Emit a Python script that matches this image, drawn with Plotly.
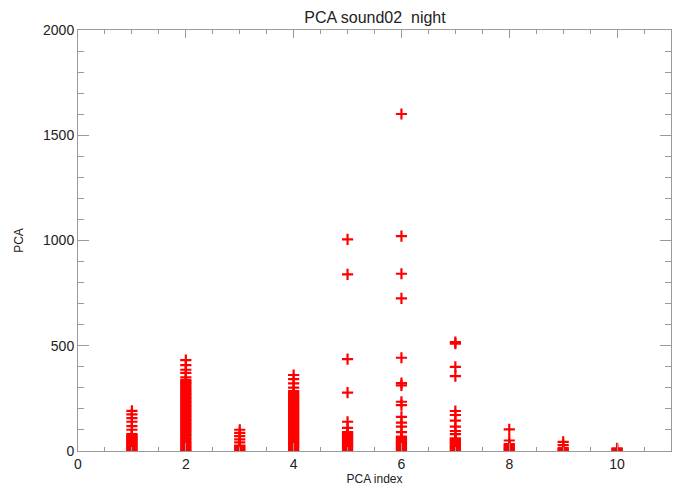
import plotly.graph_objects as go

# PCA values, one list per PCA index
pca1 = [0, 4, 9, 13, 18, 22, 27, 31, 36, 40, 45, 49, 54, 58, 63, 67, 72, 76, 80,
        101, 118, 139, 156, 174, 191]
pca2 = [0, 5, 11, 18, 24, 31, 37, 44, 50, 57, 63, 70, 76, 83, 89, 96, 102, 109, 115,
        122, 128, 135, 141, 148, 154, 161, 167, 174, 180, 187, 193, 200, 206, 213,
        219, 226, 232, 239, 245, 252, 258, 265, 271, 278, 284, 291, 297, 304, 310,
        317, 323, 330, 337, 350, 371, 386, 408, 432]
pca3 = [0, 5, 10, 16, 21, 26, 41, 55, 71, 86, 101]
pca4 = [0, 6, 13, 19, 26, 32, 39, 45, 52, 58, 65, 71, 78, 84, 91, 97, 104, 110, 117,
        123, 130, 136, 143, 149, 156, 162, 169, 175, 182, 188, 195, 201, 208, 214,
        221, 227, 234, 240, 247, 253, 260, 266, 273, 279, 285, 301, 321, 341, 361]
pca5 = [0, 6, 13, 19, 26, 32, 39, 45, 52, 58, 65, 71, 78, 84, 90,
        110, 139, 277, 436, 839, 1005]
pca6 = [0, 6, 12, 18, 24, 30, 37, 43, 49, 55, 62, 68,
        90, 116, 135, 162, 218, 234, 312, 322, 443, 725, 842, 1021, 1601]
pca7 = [0, 6, 12, 18, 25, 31, 37, 43, 49, 55, 60,
        80, 95, 116, 144, 171, 190, 356, 400, 510, 517]
pca8 = [0, 5, 10, 15, 21, 27, 33, 50, 103]
pca9 = [0, 4, 8, 14, 28, 43]
pca10 = [0, 4, 9, 13]

series = [pca1, pca2, pca3, pca4, pca5, pca6, pca7, pca8, pca9, pca10]
pca_index = list(range(1, len(series) + 1))

x_vals, y_vals = [], []
for idx, vals in zip(pca_index, series):
    x_vals += [idx] * len(vals)
    y_vals += vals

AXIS_COLOR = "#9a9a9a"
FONT = "Liberation Sans, Arial, Helvetica, sans-serif"

fig = go.Figure(go.Scatter(
    x=x_vals, y=y_vals, mode="markers",
    marker=dict(symbol="cross-thin", size=8, color="red",
                line=dict(color="red", width=2.2)),
    showlegend=False,
))

# page body adds an 8px margin, so the figure is 8px smaller and shifted margins
fig.update_layout(
    width=674, height=488,
    margin=dict(l=70, r=11, t=22, b=45, autoexpand=False),
    paper_bgcolor="white", plot_bgcolor="white",
    font=dict(family=FONT, color="#222", size=13),
    title=dict(text="PCA sound02  night", x=0.5445, xanchor="center",
               y=0.992, yanchor="top", automargin=False, pad=dict(t=0, b=0),
               font=dict(size=16, color="#222")),
)
fig.update_xaxes(
    range=[0, 11], tickmode="array", tickvals=[0, 2, 4, 6, 8, 10],
    ticks="inside", ticklen=8, tickwidth=1, tickcolor=AXIS_COLOR,
    minor=dict(dtick=0.5, ticks="inside", ticklen=4, tickcolor=AXIS_COLOR),
    showline=True, linecolor=AXIS_COLOR, linewidth=1, mirror="ticks",
    showgrid=False, zeroline=False, automargin=False,
    title=dict(text="PCA index", font=dict(size=12), standoff=0),
    tickfont=dict(size=14),
)
fig.update_yaxes(
    range=[0, 2000], tickmode="array", tickvals=[0, 500, 1000, 1500, 2000],
    ticks="inside", ticklen=11, tickwidth=1, tickcolor=AXIS_COLOR,
    minor=dict(dtick=100, ticks="inside", ticklen=6, tickcolor=AXIS_COLOR),
    showline=True, linecolor=AXIS_COLOR, linewidth=1, mirror="ticks",
    showgrid=False, zeroline=False, automargin=False,
    title=dict(text="PCA", font=dict(size=12), standoff=16),
    tickfont=dict(size=14),
)

fig.write_html("out.html")
